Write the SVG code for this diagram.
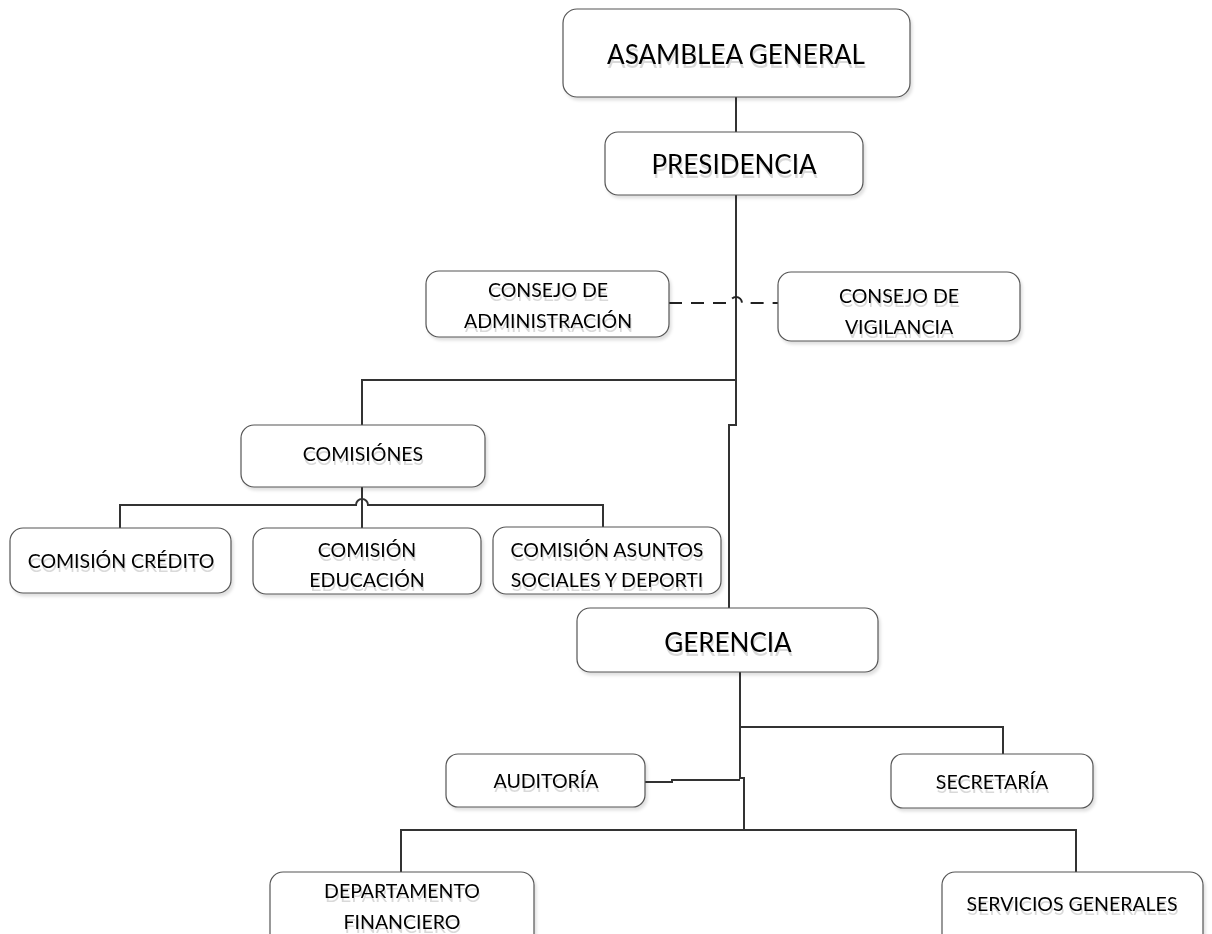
<svg xmlns="http://www.w3.org/2000/svg" width="1212" height="934" viewBox="0 0 1212 934">
<defs>
<filter id="bs" x="-10%" y="-10%" width="125%" height="130%">
<feDropShadow dx="2" dy="3" stdDeviation="1.5" flood-color="#000" flood-opacity="0.12"/>
</filter>
<filter id="ts" x="-5%" y="-20%" width="110%" height="160%">
<feDropShadow dx="1" dy="4" stdDeviation="0.6" flood-color="#000" flood-opacity="0.15"/>
</filter>
</defs>
<style>
.box{fill:#fff;stroke:#555;stroke-width:1.2;filter:url(#bs)}
text{font-family:Lato,"Open Sans","Liberation Sans",sans-serif;fill:#000;text-anchor:middle;filter:url(#ts)}
.big{font-size:26px}
.sm{font-size:19.5px}
.ln{fill:none;stroke:#333;stroke-width:2}
.dash{fill:none;stroke:#222;stroke-width:2;stroke-dasharray:13 9}
</style>
<rect width="1212" height="934" fill="#fff"/>
<g id="connectors">
<path class="ln" d="M736 97V132"/>
<path class="ln" d="M736 195V425H729V608"/>
<path class="ln" d="M736 380H362V425"/>
<path class="dash" d="M669 303H730A6 6 0 0 1 742 303H778"/>
<path class="ln" d="M362 487V528"/>
<path class="ln" d="M120 528V505H356A6 6 0 0 1 368 505H603V527"/>
<path class="ln" d="M740 672V778H744V830"/>
<path class="ln" d="M740 727H1003V754"/>
<path class="ln" d="M645 782H672V780H740"/>
<path class="ln" d="M401 872V830H1076V872"/>
</g>
<g id="asamblea"><rect class="box" x="563" y="9" width="347" height="88" rx="14"/><text class="big" x="736" y="64">ASAMBLEA GENERAL</text></g>
<g id="presidencia"><rect class="box" x="605" y="132" width="258" height="63" rx="13"/><text class="big" x="734" y="174">PRESIDENCIA</text></g>
<g id="consejo-admin"><rect class="box" x="426" y="271" width="243" height="66" rx="13"/><text class="sm" x="548" y="297">CONSEJO DE</text><text class="sm" x="548" y="328">ADMINISTRACIÓN</text></g>
<g id="consejo-vig"><rect class="box" x="778" y="272" width="242" height="69" rx="13"/><text class="sm" x="899" y="303">CONSEJO DE</text><text class="sm" x="899" y="334">VIGILANCIA</text></g>
<g id="comisiones"><rect class="box" x="241" y="425" width="244" height="62" rx="13"/><text class="sm" x="363" y="461">COMISIÓNES</text></g>
<g id="credito"><rect class="box" x="10" y="528" width="221" height="65" rx="13"/><text class="sm" x="121" y="568">COMISIÓN CRÉDITO</text></g>
<g id="educacion"><rect class="box" x="253" y="528" width="228" height="66" rx="13"/><text class="sm" x="367" y="557">COMISIÓN</text><text class="sm" x="367" y="587">EDUCACIÓN</text></g>
<g id="asuntos"><rect class="box" x="493" y="527" width="228" height="67" rx="13"/><text class="sm" x="607" y="557">COMISIÓN ASUNTOS</text><text class="sm" x="607" y="587">SOCIALES Y DEPORTI</text></g>
<g id="gerencia"><rect class="box" x="577" y="608" width="301" height="64" rx="13"/><text class="big" x="728" y="652">GERENCIA</text></g>
<g id="auditoria"><rect class="box" x="446" y="754" width="199" height="53" rx="12"/><text class="sm" x="546" y="788">AUDITORÍA</text></g>
<g id="secretaria"><rect class="box" x="891" y="754" width="202" height="54" rx="12"/><text class="sm" x="992" y="789">SECRETARÍA</text></g>
<g id="departamento"><rect class="box" x="270" y="872" width="264" height="75" rx="13"/><text class="sm" x="402" y="898">DEPARTAMENTO</text><text class="sm" x="402" y="929">FINANCIERO</text></g>
<g id="servicios"><rect class="box" x="942" y="872" width="261" height="75" rx="13"/><text class="sm" x="1072" y="911">SERVICIOS GENERALES</text></g>
</svg>
